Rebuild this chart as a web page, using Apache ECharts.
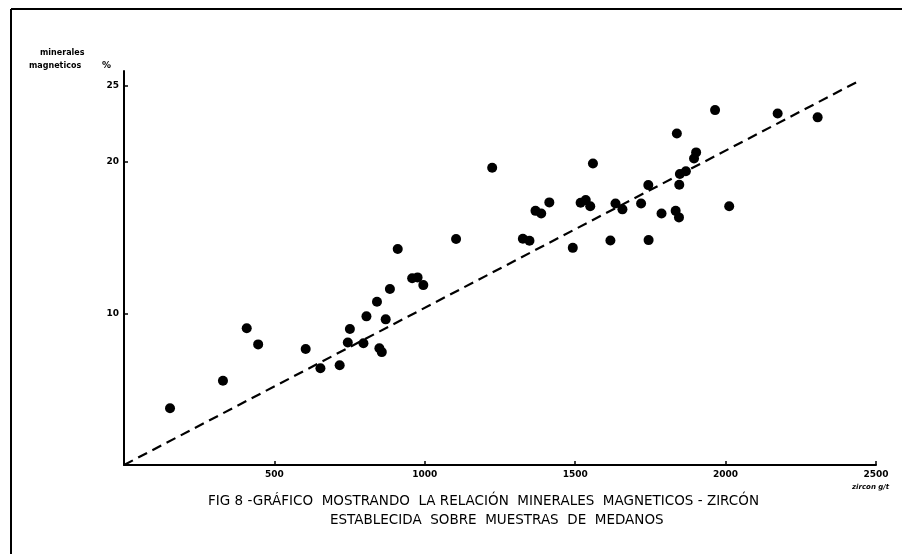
<!DOCTYPE html>
<html>
<head>
<meta charset="utf-8">
<script src="https://cdn.jsdelivr.net/npm/echarts/dist/echarts.min.js"></script>
<style>
  html, body { margin: 0; padding: 0; background: #fff; }
  #chart { width: 902px; height: 554px; }
</style>
</head>
<body>
<div id="chart"></div>
<script>
// zircon (g/t) vs magnetic minerals (%)
const zirconValues = [153, 329, 408, 446, 604, 653, 717, 751, 744, 796, 806, 841, 849, 857, 870, 884, 910, 958, 976, 995,
  1104, 1224, 1326, 1348, 1368, 1387, 1414, 1492, 1518, 1535, 1550, 1559, 1617, 1634, 1657, 1719, 1744, 1743,
  1787, 1834, 1845, 1846, 1848, 1868, 1838, 1895, 1902, 1965, 2012, 2173, 2306];
const magneticValues = [3.74, 5.56, 9.02, 7.96, 7.65, 6.38, 6.58, 8.97, 8.08, 8.03, 9.81, 10.77, 7.70, 7.45, 9.61, 11.61, 14.25, 12.32, 12.38, 11.87,
  14.91, 19.61, 14.93, 14.80, 16.77, 16.60, 17.33, 14.33, 17.30, 17.48, 17.08, 19.90, 14.81, 17.26, 16.87, 17.26, 14.84, 18.47,
  16.60, 16.77, 16.34, 18.49, 19.20, 19.39, 21.88, 20.23, 20.63, 23.42, 17.08, 23.20, 22.94];

// dashed trend line
const trendX = [0, 2437];
const trendY = [0, 25.28];

const xTickValues = [500, 1000, 1500, 2000, 2500];
const yTickValues = [10, 20, 25];

const chart = echarts.init(document.getElementById('chart'));

const points = zirconValues.map((x, i) => [x, magneticValues[i]]);
const trend = trendX.map((x, i) => [x, trendY[i]]);

const ink = '#000';
const font = 'DejaVu Sans, sans-serif';

chart.setOption({
  backgroundColor: '#fff',
  animation: false,
  grid: { left: 124, right: 26, top: 71, bottom: 89 },
  xAxis: {
    type: 'value',
    min: 0,
    max: 2500,
    interval: 500,
    splitLine: { show: false },
    axisLine: { lineStyle: { color: ink, width: 2 } },
    axisTick: { inside: true, length: 4, lineStyle: { color: ink, width: 1.5 }, customValues: xTickValues },
    axisLabel: {
      color: ink, fontSize: 9, fontWeight: 'bold', fontFamily: font, margin: 5,
      customValues: xTickValues, formatter: (v) => String(v)
    }
  },
  yAxis: {
    type: 'value',
    min: 0,
    max: 26,
    splitLine: { show: false },
    axisLine: { lineStyle: { color: ink, width: 2 } },
    axisTick: { inside: true, length: 4, lineStyle: { color: ink, width: 1.5 }, customValues: yTickValues },
    axisLabel: {
      color: ink, fontSize: 9, fontWeight: 'bold', fontFamily: font, margin: 5,
      customValues: yTickValues, formatter: (v) => String(v)
    }
  },
  series: [
    {
      type: 'line',
      data: trend,
      symbol: 'none',
      lineStyle: { color: ink, width: 2.2, type: [10, 6] },
      z: 2
    },
    {
      type: 'scatter',
      data: points,
      symbol: 'circle',
      symbolSize: 10,
      itemStyle: { color: ink, opacity: 1 },
      z: 3
    }
  ],
  graphic: [
    // scan frame
    { type: 'line', shape: { x1: 11, y1: 9, x2: 902, y2: 9 }, style: { stroke: ink, lineWidth: 2 } },
    { type: 'line', shape: { x1: 11, y1: 9, x2: 11, y2: 554 }, style: { stroke: ink, lineWidth: 2 } },
    // y axis name
    { type: 'text', left: 40, top: 49, style: { text: 'minerales', fill: ink, font: 'bold 8px ' + font } },
    { type: 'text', left: 29, top: 62, style: { text: 'magneticos', fill: ink, font: 'bold 8px ' + font } },
    { type: 'text', left: 102, top: 61, style: { text: '%', fill: ink, font: 'bold 9px ' + font } },
    // x axis name
    { type: 'text', left: 852, top: 484, style: { text: 'zircon g/t', fill: ink, font: 'italic bold 7px ' + font } },
    // caption
    { type: 'text', left: 208, top: 494, style: { text: 'FIG 8 -GRÁFICO  MOSTRANDO  LA RELACIÓN  MINERALES  MAGNETICOS - ZIRCÓN', fill: ink, font: '13.5px ' + font } },
    { type: 'text', left: 330, top: 513, style: { text: 'ESTABLECIDA  SOBRE  MUESTRAS  DE  MEDANOS', fill: ink, font: '13.5px ' + font } }
  ]
});
</script>
</body>
</html>
